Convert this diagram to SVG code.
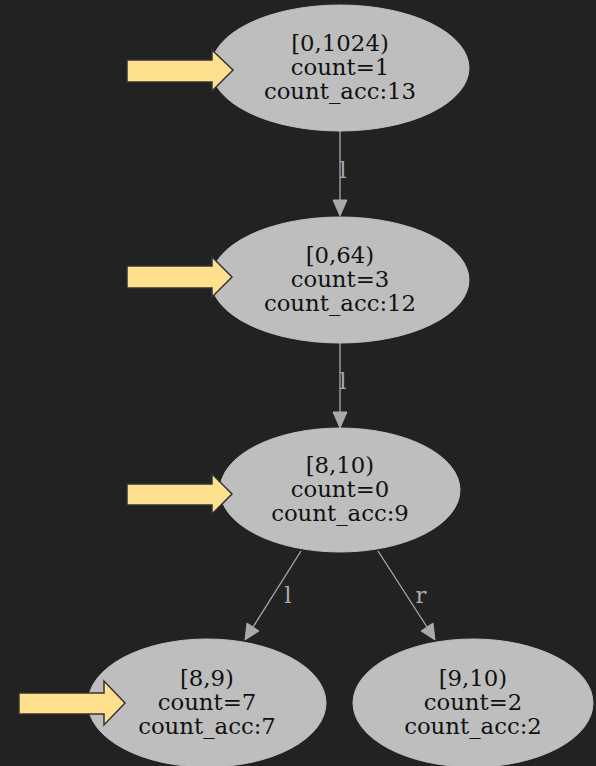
<svg xmlns="http://www.w3.org/2000/svg" width="596" height="766" viewBox="0 0 596 766">
<defs>
<style>
.node ellipse{fill:#bebebe;stroke:#bebebe;stroke-width:1}
.node text{font-family:"DejaVu Serif","Liberation Serif",serif;font-size:22.8px;fill:#111;text-anchor:middle}
.ptr{fill:#ffe08f;stroke:#333;stroke-width:1.5}
.edge line{stroke:#aaaaaa;stroke-width:1.3}
.edge polygon{fill:#aaaaaa;stroke:#aaaaaa}
.edge text{font-family:"DejaVu Serif","Liberation Serif",serif;font-size:22.8px;fill:#aaaaaa;text-anchor:middle}
</style>
</defs>
<rect width="596" height="766" fill="#222222"/>
<g id="edges" class="edge">
<line x1="340" y1="131" x2="340" y2="200"/>
<polygon points="333,200 347,200 340,216"/>
<text x="343" y="178">l</text>
<line x1="340" y1="343" x2="340" y2="412"/>
<polygon points="333,412 347,412 340,428"/>
<text x="343" y="389">l</text>
<line x1="301" y1="551" x2="253" y2="627"/>
<polygon points="247,623 259,631 245,640"/>
<text x="288" y="603">l</text>
<line x1="378" y1="551" x2="427" y2="627"/>
<polygon points="421,631 433,623 435,640"/>
<text x="421" y="603">r</text>
</g>
<g id="n1" class="node">
<ellipse cx="340" cy="68" rx="129" ry="63"/>
<text x="340" y="50.5">[0,1024)</text>
<text x="340" y="74.5">count=1</text>
<text x="340" y="98.5">count_acc:13</text>
</g>
<g id="n2" class="node">
<ellipse cx="340" cy="280" rx="129" ry="63"/>
<text x="340" y="262.5">[0,64)</text>
<text x="340" y="286.5">count=3</text>
<text x="340" y="310.5">count_acc:12</text>
</g>
<g id="n3" class="node">
<ellipse cx="340" cy="490" rx="120" ry="62"/>
<text x="340" y="473">[8,10)</text>
<text x="340" y="497">count=0</text>
<text x="340" y="521">count_acc:9</text>
</g>
<g id="n4" class="node">
<ellipse cx="207" cy="703" rx="119" ry="64"/>
<text x="207" y="685.5">[8,9)</text>
<text x="207" y="709.5">count=7</text>
<text x="207" y="733.5">count_acc:7</text>
</g>
<g id="n5" class="node">
<ellipse cx="473" cy="703" rx="120" ry="64"/>
<text x="473" y="685.5">[9,10)</text>
<text x="473" y="709.5">count=2</text>
<text x="473" y="733.5">count_acc:2</text>
</g>
<g id="p1"><polygon class="ptr" points="127,60 212,60 212,50 233,70 212,91 212,82 127,82"/></g>
<g id="p2"><polygon class="ptr" points="127,266 212,266 212,257 232,277 212,297 212,288 127,288"/></g>
<g id="p3"><polygon class="ptr" points="127,484 212,484 212,474 232,494 212,514 212,505 127,505"/></g>
<g id="p4"><polygon class="ptr" points="19,693 104,693 104,681 125,703 104,725 104,714 19,714"/></g>
</svg>
